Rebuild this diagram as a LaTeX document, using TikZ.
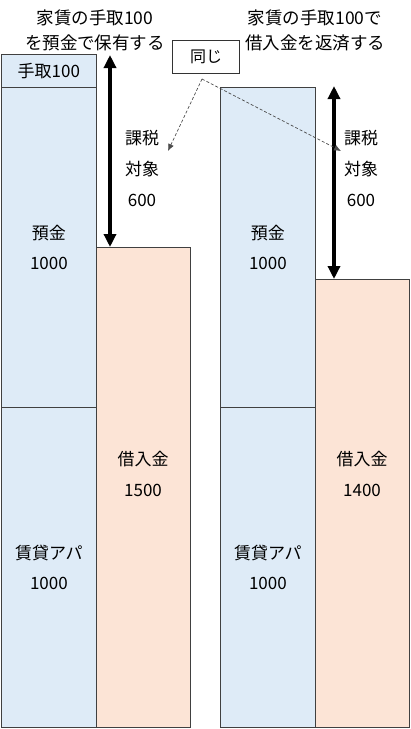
\documentclass[tikz,border=0pt]{standalone}
\usepackage{fontspec}
\setmainfont{Noto Sans CJK JP}
\usetikzlibrary{positioning, arrows.meta}
\definecolor{depblue}{HTML}{DEEBF7}
\definecolor{loanpink}{HTML}{FCE4D6}
\tikzset{
  asset/.style={rectangle, draw=black!75, fill=depblue, line width=0.8pt, minimum width=95pt, inner sep=0pt, align=center, anchor=north west, font=\fontsize{17}{30}\selectfont},
  loan/.style={rectangle, draw=black!75, fill=loanpink, line width=0.8pt, minimum width=94pt, inner sep=0pt, anchor=north west},
  label/.style={align=center, inner sep=0pt, font=\fontsize{17}{31}\selectfont},
  title/.style={align=center, inner sep=0pt, font=\fontsize{17.5}{25}\selectfont},
  bigarrow/.style={{Triangle[width=12pt,length=13pt]}-{Triangle[width=12pt,length=13pt]}, line width=4pt},
  hint/.style={-{Latex[length=7pt,width=6pt]}, densely dashed, draw=black!70, line width=0.7pt}
}
\begin{document}
\begin{tikzpicture}[x=1pt, y=-1pt]
  \useasboundingbox (0,0) rectangle (411,729);

  % left column: keep the cash
  \node[asset, minimum height=33pt] (tedori) at (1,54) {手取100};
  \node[asset, minimum height=320pt] (depL) at (1,87) {預金\\1000};
  \node[asset, minimum height=320pt] (aptL) at (1,407) {賃貸アパ\\1000};
  \node[loan, minimum height=480pt] (loanL) at (96,247) {};
  \node[label] (loanLtxt) at (143,474) {借入金\\1500};
  \node[title] (titleL) at (95,30) {家賃の手取100\\を預金で保有する};

  % right column: repay the loan
  \node[asset, minimum height=320pt] (depR) at (220,87) {預金\\1000};
  \node[asset, minimum height=320pt] (aptR) at (220,407) {賃貸アパ\\1000};
  \node[loan, minimum height=448pt] (loanR) at (315,279) {};
  \node[label] (loanRtxt) at (362,474) {借入金\\1400};
  \node[title] (titleR) at (315,30) {家賃の手取100で\\借入金を返済する};

  % taxable part
  \node[label] (taxL) at (142,168) {課税\\対象\\600};
  \node[label] (taxR) at (361,168) {課税\\対象\\600};

  \coordinate (arrLtop) at (110,55);
  \coordinate (arrLbot) at (110,247);
  \coordinate (arrRtop) at (334,86);
  \coordinate (arrRbot) at (334,279);
  \draw[bigarrow] (arrLtop) -- (arrLbot);
  \draw[bigarrow] (arrRtop) -- (arrRbot);

  % same amount
  \node[draw=black!80, fill=white, line width=0.7pt, minimum width=67pt, minimum height=33pt, inner sep=0pt, font=\fontsize{16}{18}\selectfont] (same) at (206,57) {同じ};
  \coordinate (split) at (202,79);
  \coordinate (hintL) at (168,151);
  \coordinate (hintR) at (341,151);
  \draw[hint] (split) -- (hintL);
  \draw[hint] (split) -- (hintR);
\end{tikzpicture}
\end{document}
